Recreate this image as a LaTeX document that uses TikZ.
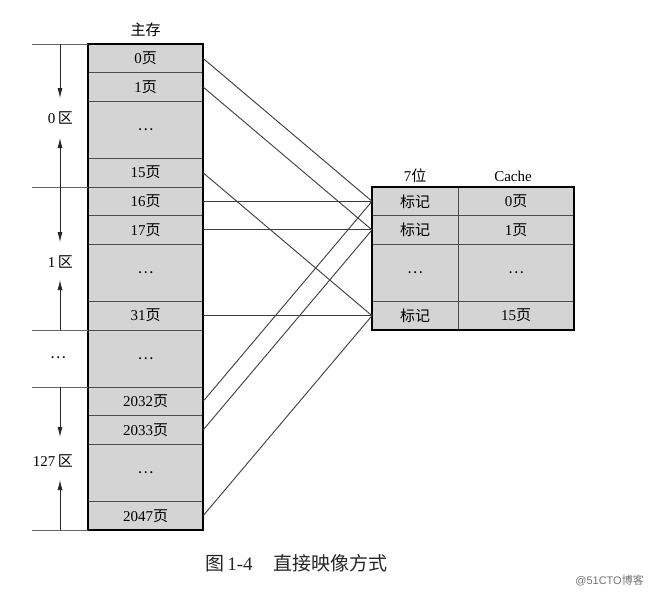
\documentclass[tikz,border=0pt]{standalone}
\usepackage{fontspec}
\setmainfont{Liberation Serif}
\newfontfamily\cjk{Noto Sans CJK SC}
\newfontfamily\wmfont{Liberation Sans}
\newcommand\zhs[1]{{\cjk #1}}
\newcommand\dotsz{{\cjk …}}
\usetikzlibrary{arrows.meta}
\definecolor{cellgray}{RGB}{212,212,212}
\definecolor{linegray}{RGB}{60,60,60}
\begin{document}
\begin{tikzpicture}[x=1pt,y=-1pt,
  cell/.style={draw=black!70, line width=0.9pt, fill=cellgray, outer sep=0pt, inner sep=0pt,
    minimum height=#1*28.6pt, font=\fontsize{15}{17}\selectfont},
  mcell/.style={cell=#1, minimum width=115pt},
  tcell/.style={cell=#1, minimum width=86pt},
  dcell/.style={cell=#1, minimum width=116pt},
  outer/.style={draw=black, line width=1.5pt},
  link/.style={draw=linegray, line width=0.9pt},
  zone/.style={draw=black!60, line width=0.9pt},
  zarrow/.style={draw=black!85, line width=0.8pt, -{Latex[length=10pt,width=5pt]}},
  lab/.style={font=\fontsize{15}{17}\selectfont, inner sep=0pt}
]
\useasboundingbox (0,0) rectangle (650,594);
\fill[white] (0,0) rectangle (650,594);
% main memory column
\node[mcell=1] (p0)    at (145.5,{44+0.5*28.6})  {0\zhs{页}};
\node[mcell=1] (p1)    at (145.5,{44+1.5*28.6})  {1\zhs{页}};
\node[mcell=2] (d0)    at (145.5,{44+3*28.6})    {\dotsz};
\node[mcell=1] (p15)   at (145.5,{44+4.5*28.6})  {15\zhs{页}};
\node[mcell=1] (p16)   at (145.5,{44+5.5*28.6})  {16\zhs{页}};
\node[mcell=1] (p17)   at (145.5,{44+6.5*28.6})  {17\zhs{页}};
\node[mcell=2] (d1)    at (145.5,{44+8*28.6})    {\dotsz};
\node[mcell=1] (p31)   at (145.5,{44+9.5*28.6})  {31\zhs{页}};
\node[mcell=2] (dm)    at (145.5,{44+11*28.6})   {\dotsz};
\node[mcell=1] (p2032) at (145.5,{44+12.5*28.6}) {2032\zhs{页}};
\node[mcell=1] (p2033) at (145.5,{44+13.5*28.6}) {2033\zhs{页}};
\node[mcell=2] (d127)  at (145.5,{44+15*28.6})   {\dotsz};
\node[mcell=1] (p2047) at (145.5,{44+16.5*28.6}) {2047\zhs{页}};
\draw[outer] (p0.north west) rectangle (p2047.south east);
\node[lab] (hmain) at (145.5,30) {\zhs{主存}};
% cache
\node[tcell=1] (t0)  at (415,{44+5.5*28.6}) {\zhs{标记}};
\node[tcell=1] (t1)  at (415,{44+6.5*28.6}) {\zhs{标记}};
\node[tcell=2] (td)  at (415,{44+8*28.6})   {\dotsz};
\node[tcell=1] (t15) at (415,{44+9.5*28.6}) {\zhs{标记}};
\node[dcell=1] (c0)  at (516,{44+5.5*28.6}) {0\zhs{页}};
\node[dcell=1] (c1)  at (516,{44+6.5*28.6}) {1\zhs{页}};
\node[dcell=2] (cd)  at (516,{44+8*28.6})   {\dotsz};
\node[dcell=1] (c15) at (516,{44+9.5*28.6}) {15\zhs{页}};
\draw[outer] (t0.north west) rectangle (c15.south east);
\node[lab] (h7) at (415,176) {7\zhs{位}};
\node[lab] (hc) at (513,176) {Cache};
% links
\draw[link] (p0.east) -- (t0.west);
\draw[link] (p1.east) -- (t1.west);
\draw[link] (p15.east) -- (t15.west);
\draw[link] (p16.east) -- (t0.west);
\draw[link] (p17.east) -- (t1.west);
\draw[link] (p31.east) -- (t15.west);
\draw[link] (p2032.east) -- (t0.west);
\draw[link] (p2033.east) -- (t1.west);
\draw[link] (p2047.east) -- (t15.west);
% zone lines on the left
\coordinate (z0) at (32,44);
\coordinate (z1) at (32,{44+5*28.6});
\coordinate (z2) at (32,{44+10*28.6});
\coordinate (z3) at (32,{44+12*28.6});
\coordinate (z4) at (32,{44+17*28.6});
\draw[zone] (z0) -- (p0.north west);
\draw[zone] (z1) -- (p16.north west);
\draw[zone] (z2) -- (p31.south west);
\draw[zone] (z3) -- (p2032.north west);
\draw[zone] (z4) -- (p2047.south west);
% zone arrows
\coordinate (a0s) at (60,44);  \coordinate (a0e) at (60,98);
\coordinate (b0s) at (60,187); \coordinate (b0e) at (60,138);
\coordinate (a1s) at (60,187); \coordinate (a1e) at (60,242);
\coordinate (b1s) at (60,330); \coordinate (b1e) at (60,280);
\coordinate (a3s) at (60,387); \coordinate (a3e) at (60,437);
\coordinate (b3s) at (60,530); \coordinate (b3e) at (60,480);
\draw[zarrow] (a0s) -- (a0e);
\draw[zarrow] (b0s) -- (b0e);
\draw[zarrow] (a1s) -- (a1e);
\draw[zarrow] (b1s) -- (b1e);
\draw[zarrow] (a3s) -- (a3e);
\draw[zarrow] (b3s) -- (b3e);
\node[lab, anchor=east] (q0) at (73,118) {0\,\zhs{区}};
\node[lab, anchor=east] (q1) at (73,262) {1\,\zhs{区}};
\node[lab] (qm) at (58,358) {\dotsz};
\node[lab, anchor=east] (q3) at (73,461) {127\,\zhs{区}};
% caption
\node[font=\fontsize{19}{21}\selectfont, anchor=west, inner sep=0pt, text=black!85] (cap) at (205,563) {\zhs{图}\,1-4\hspace{1.1em}\zhs{直接映像方式}};
\node[font=\fontsize{11}{13}\selectfont, anchor=east, inner sep=0pt, text=black!55] (wm) at (644,581) {\wmfont @51CTO\zhs{博客}};
\end{tikzpicture}
\end{document}
